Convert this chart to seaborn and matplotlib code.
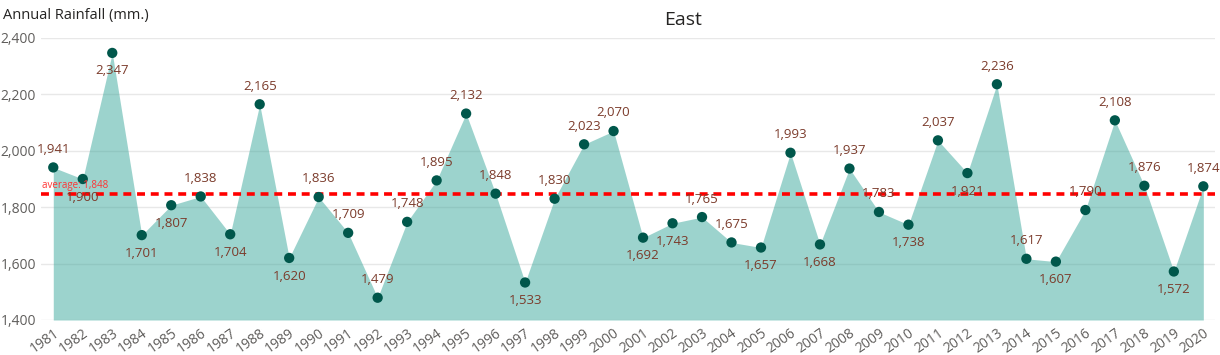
import matplotlib
matplotlib.use("Agg")
import matplotlib.pyplot as plt
import matplotlib.transforms as mtransforms
import numpy as np
import pandas as pd
import seaborn as sns

# annual rainfall, East region
years = list(range(1981, 2021))
rainfall = [1941, 1900, 2347, 1701, 1807, 1838, 1704, 2165, 1620, 1836,
            1709, 1479, 1748, 1895, 2132, 1848, 1533, 1830, 2023, 2070,
            1692, 1743, 1765, 1675, 1657, 1993, 1668, 1937, 1783, 1738,
            2037, 1921, 2236, 1617, 1607, 1790, 2108, 1876, 1572, 1874]
average = 1848
y_ticks = [1400, 1600, 1800, 2000, 2200, 2400]

# years whose data label sits under the marker
labels_below = [1982, 1983, 1984, 1985, 1987, 1989, 1997, 2001, 2002, 2005,
                2007, 2010, 2012, 2015, 2019]

df = pd.DataFrame({"Year": years, "Rainfall": rainfall})
df["pos"] = np.arange(len(df))

sns.set_theme(style="white")
plt.rcParams["font.family"] = ["Open Sans", "DejaVu Sans"]

fig = plt.figure(figsize=(12.2, 3.55), dpi=100)
ax = fig.add_axes([0.034, 0.0986, 0.962, 0.7944])

for t in y_ticks:
    ax.axhline(t, color="#e8e8e8", linewidth=1, zorder=0)

ax.fill_between(df["pos"], y_ticks[0], df["Rainfall"], color="#3ba89c",
                alpha=0.5, linewidth=0, zorder=1)
sns.scatterplot(data=df, x="pos", y="Rainfall", color="#00574b", s=55,
                edgecolor="none", ax=ax, zorder=4, clip_on=False)

ax.axhline(average, color="#ff0000", linestyle=(0, (2.2, 1.6)), linewidth=2.6,
           zorder=3)
ax.text(-0.38, average + 8, f"average: {average:,}", color="#ff3333",
        fontsize=7, ha="left", va="bottom", zorder=5)

for _, row in df.iterrows():
    below = row["Year"] in labels_below
    ax.annotate(f"{row['Rainfall']:,}", (row["pos"], row["Rainfall"]),
                xytext=(0, -13 if below else 13), textcoords="offset points",
                ha="center", va="center", fontsize=9.5, color="#7b3b2b",
                zorder=6, annotation_clip=False)

ax.set_xlim(-0.4, len(df) - 0.6)
ax.set_ylim(y_ticks[0], y_ticks[-1])
ax.set_yticks(y_ticks)
ax.set_yticklabels([f"{t:,}" for t in y_ticks], color="#605e5c", fontsize=10)
ax.set_xticks(df["pos"])
ax.set_xticklabels(df["Year"], rotation=35, ha="right",
                   rotation_mode="anchor", color="#605e5c", fontsize=10)
offset = mtransforms.ScaledTranslation(-4 / 72, 0, fig.dpi_scale_trans)
for lab in ax.get_xticklabels():
    lab.set_transform(lab.get_transform() + offset)
ax.tick_params(axis="both", length=0, pad=4)
ax.set_xlabel("")
ax.set_ylabel("")
sns.despine(ax=ax, left=True, bottom=True)

fig.text(0.0025, 1 - 15 / 355, "Annual Rainfall (mm.)", fontsize=10.5,
         color="#252423", ha="left", va="center")
fig.text(683 / 1220, 1 - 20 / 355, "East", fontsize=14, color="#252423",
         ha="center", va="center")

fig.savefig("out.png", dpi=100)
